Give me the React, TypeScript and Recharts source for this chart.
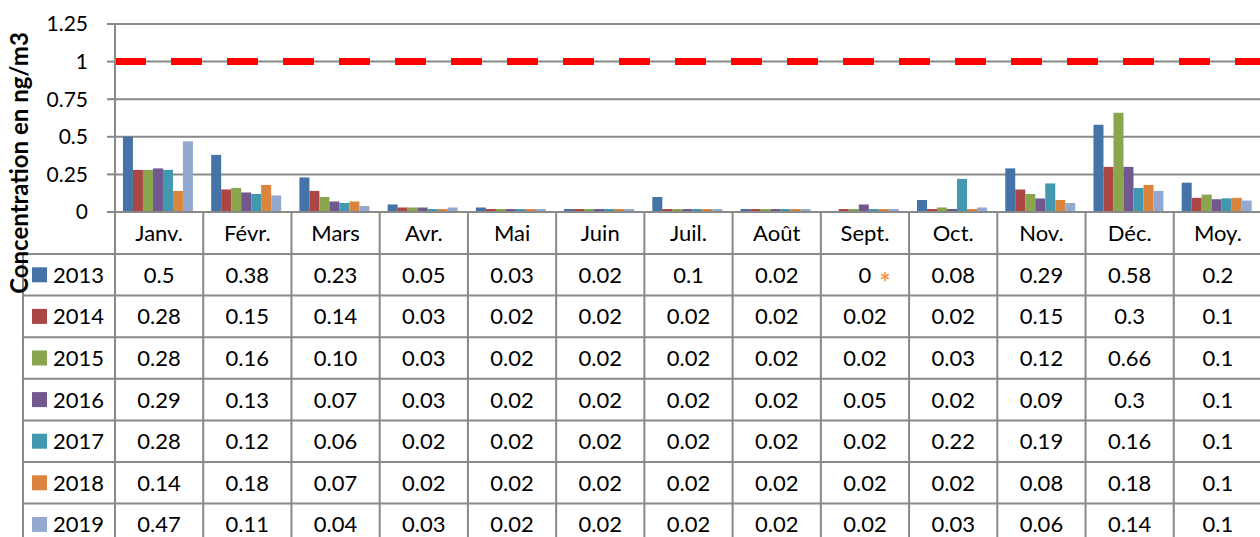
import React from 'react';
import {
  BarChart,
  Bar,
  XAxis,
  YAxis,
  CartesianGrid,
  ReferenceLine,
} from 'recharts';

// =============================================================================
// Data
// =============================================================================

const MONTHS = ['Janv.', 'Févr.', 'Mars', 'Avr.', 'Mai', 'Juin', 'Juil.', 'Août', 'Sept.', 'Oct.', 'Nov.', 'Déc.', 'Moy.'];

const Y2013 = [0.5, 0.38, 0.23, 0.05, 0.03, 0.02, 0.1, 0.02, 0, 0.08, 0.29, 0.58, 0.195];
const Y2014 = [0.28, 0.15, 0.14, 0.03, 0.02, 0.02, 0.02, 0.02, 0.02, 0.02, 0.15, 0.3, 0.094];
const Y2015 = [0.28, 0.16, 0.1, 0.03, 0.02, 0.02, 0.02, 0.02, 0.02, 0.03, 0.12, 0.66, 0.116];
const Y2016 = [0.29, 0.13, 0.07, 0.03, 0.02, 0.02, 0.02, 0.02, 0.05, 0.02, 0.09, 0.3, 0.085];
const Y2017 = [0.28, 0.12, 0.06, 0.02, 0.02, 0.02, 0.02, 0.02, 0.02, 0.22, 0.19, 0.16, 0.091];
const Y2018 = [0.14, 0.18, 0.07, 0.02, 0.02, 0.02, 0.02, 0.02, 0.02, 0.02, 0.08, 0.18, 0.094];
const Y2019 = [0.47, 0.11, 0.04, 0.03, 0.02, 0.02, 0.02, 0.02, 0.02, 0.03, 0.06, 0.14, 0.076];

const Y_TICKS = [0, 0.25, 0.5, 0.75, 1, 1.25];
const LIMIT = 1;

// cells whose text differs from the plain number in the data table
const TEXT_OVERRIDES: Record<string, string> = { '2015|Mars': '0.10' };
const NOTES: Record<string, string> = { '2013|Sept.': '*' };

const SERIES = [
  { name: '2013', values: Y2013, color: '#4572A7' },
  { name: '2014', values: Y2014, color: '#AA4643' },
  { name: '2015', values: Y2015, color: '#89A54E' },
  { name: '2016', values: Y2016, color: '#71588F' },
  { name: '2017', values: Y2017, color: '#4198AF' },
  { name: '2018', values: Y2018, color: '#DB843D' },
  { name: '2019', values: Y2019, color: '#93A9CF' },
];

const chartData = MONTHS.map((m, i) => {
  const row: Record<string, string | number> = { month: m };
  SERIES.forEach((s) => (row[s.name] = s.values[i]));
  return row;
});

// =============================================================================
// Layout
// =============================================================================

const W = 1262;
const H = 537;
const PLOT_LEFT = 115;
const PLOT_TOP = 24;
const PLOT_BOTTOM = 212;
const ROW_TOP = 254;
const ROW_H = 41.6;
const LEGEND_LEFT = 23;
const GRID = '#898989';
const FONT = 'Lato, "Open Sans", sans-serif';

const cellText = (year: string, month: string, v: number) => {
  const key = `${year}|${month}`;
  if (TEXT_OVERRIDES[key]) return TEXT_OVERRIDES[key];
  if (month === 'Moy.') return v.toFixed(1);
  return String(v);
};

function DataTable() {
  const colW = (W - PLOT_LEFT) / MONTHS.length;
  const rows = SERIES.length;
  const lines: React.ReactNode[] = [];
  for (let i = 0; i <= MONTHS.length; i++) {
    const x = PLOT_LEFT + i * colW;
    lines.push(<line key={`v${i}`} x1={x} x2={x} y1={PLOT_BOTTOM} y2={H} stroke={GRID} strokeWidth={2} />);
  }
  lines.push(<line key="vl" x1={LEGEND_LEFT} x2={LEGEND_LEFT} y1={ROW_TOP} y2={H} stroke={GRID} strokeWidth={2} />);
  for (let r = 0; r <= rows; r++) {
    const y = ROW_TOP + r * ROW_H;
    lines.push(<line key={`h${r}`} x1={LEGEND_LEFT} x2={W} y1={y} y2={y} stroke={GRID} strokeWidth={2} />);
  }

  return (
    <svg width={W} height={H} style={{ position: 'absolute', left: 0, top: 0, pointerEvents: 'none' }}>
      {lines}
      {SERIES.map((s, r) => {
        const cy = ROW_TOP + r * ROW_H + ROW_H / 2;
        const base = cy + 8;
        return (
          <g key={s.name} fontFamily={FONT} fontSize={22} fill="#000">
            <rect x={32} y={cy - 7.5} width={15} height={15} fill={s.color} />
            <text x={53} y={base}>{s.name}</text>
            {MONTHS.map((m, i) => {
              const cx = PLOT_LEFT + i * colW + colW / 2;
              const note = NOTES[`${s.name}|${m}`];
              return (
                <g key={m}>
                  <text x={cx} y={base} textAnchor="middle">{cellText(s.name, m, s.values[i])}</text>
                  {note && (
                    <text x={cx + 20} y={base + 9} textAnchor="middle" fill="#F79646" fontSize={26} fontWeight="bold">{note}</text>
                  )}
                </g>
              );
            })}
          </g>
        );
      })}
      <text
        transform="translate(28,163) rotate(-90)"
        textAnchor="middle"
        fontFamily={FONT}
        fontWeight="bold"
        fontSize={24}
        fill="#000"
      >
        Concentration en ng/m3
      </text>
    </svg>
  );
}

// =============================================================================
// Component
// =============================================================================

export default function App() {
  return (
    <div style={{ position: 'absolute', left: 0, top: 0, width: 1260, height: H, overflow: 'hidden', background: '#fff' }}>
      <BarChart
        width={W}
        height={H}
        data={chartData}
        margin={{ top: PLOT_TOP, right: 0, bottom: H - PLOT_BOTTOM - 40, left: 0 }}
        barCategoryGap="9%"
        barGap={0}
      >
        <CartesianGrid vertical={false} stroke={GRID} strokeWidth={2} />
        <XAxis
          dataKey="month"
          height={40}
          tickLine={false}
          tickSize={0}
          tickMargin={13}
          axisLine={{ stroke: GRID, strokeWidth: 2 }}
          interval={0}
          tick={{ fill: '#000', fontSize: 22, fontFamily: FONT }}
        />
        <YAxis
          width={PLOT_LEFT}
          domain={[0, 1.25]}
          ticks={Y_TICKS}
          interval={0}
          tickSize={8}
          tickMargin={19}
          tickLine={{ stroke: GRID, strokeWidth: 2 }}
          axisLine={{ stroke: GRID, strokeWidth: 2 }}
          tick={{ fill: '#000', fontSize: 21, fontFamily: FONT }}
          tickFormatter={(v: number) => String(v)}
        />
        {SERIES.map((s) => (
          <Bar key={s.name} dataKey={s.name} fill={s.color} isAnimationActive={false} />
        ))}
        <ReferenceLine y={LIMIT} stroke="#FF0000" strokeWidth={7} strokeDasharray="31 25" />
      </BarChart>
      <DataTable />
    </div>
  );
}
